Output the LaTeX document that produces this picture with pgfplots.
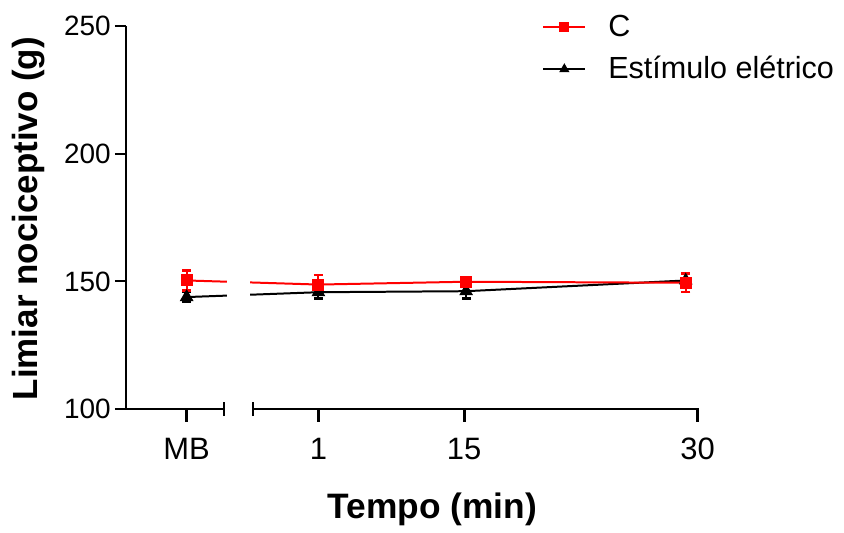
\documentclass[border=0pt]{standalone}
\usepackage{pgfplots}
\pgfplotsset{compat=1.18}
\usepackage{fontspec}
\setmainfont{Liberation Sans}
\definecolor{cred}{RGB}{255,0,0}
\begin{document}
\begin{tikzpicture}
\begin{axis}[
  x=0.5pt, y=1.28pt,
  xmin=126, xmax=700, ymin=100, ymax=250,
  clip=false,
  axis y line*=left, axis x line=none,
  axis line style={line width=1pt},
  ytick={100,150,200,250},
  xtick=\empty,
  tick align=outside,
  major tick length=5.5pt,
  every tick/.style={line width=1pt, black},
  /pgf/number format/assume math mode=true,
  yticklabel style={font=\fontsize{14}{16}\selectfont, xshift=1.5pt},
  legend style={draw=none, fill=none, at={(axis cs:537,257.5)}, anchor=north west,
    font=\fontsize{15.3}{18}\selectfont, row sep=4.5pt,
    nodes={inner sep=2pt},
    /tikz/every odd column/.append style={column sep=9pt}},
  legend cell align=left,
  reverse legend,
  legend image code/.code={\draw[mark repeat=2,mark phase=2, mark size=2pt] plot coordinates {(0pt,0pt)(10.5pt,0pt)(21pt,0pt)};},
]
% black series: Estímulo elétrico
\addplot[black, line width=1pt, mark=triangle*, mark size=3pt, mark options={solid},
  error bars/.cd, y dir=both, y explicit,
  error bar style={line width=1pt, black},
  error mark options={rotate=90, mark size=2.3pt, line width=1.2pt}]
  coordinates {
  (187,143.9) +- (0,2.0)
  (319,145.8) +- (0,2.5)
  (467,146.2) +- (0,2.8)
  (687,150.4) +- (0,2.5)
};
\addlegendentry{Estímulo elétrico}
% red series: C
\addplot[cred, line width=1pt, mark=square*, mark size=2.5pt, mark options={solid},
  error bars/.cd, y dir=both, y explicit,
  error bar style={line width=1pt, cred},
  error mark options={rotate=90, mark size=2.3pt, line width=1.2pt, cred}]
  coordinates {
  (187,150.4) +- (0,3.9)
  (319,148.8) +- (0,3.8)
  (467,149.9) +- (0,1.8)
  (687,149.5) +- (0,3.6)
};
\addlegendentry{C}
% gap of the broken axis
\fill[white] (axis cs:227,101) rectangle (axis cs:250,240);
% broken x axis
\draw[line width=1pt] (axis cs:126,100) -- (axis cs:224,100);
\draw[line width=1pt] (axis cs:253,100) -- (axis cs:700,100);
\draw[line width=1pt] ([yshift=-3.5pt]axis cs:224,100) -- ([yshift=3.5pt]axis cs:224,100);
\draw[line width=1pt] ([yshift=-3.5pt]axis cs:253,100) -- ([yshift=3.5pt]axis cs:253,100);
\draw[line width=1.5pt] (axis cs:187,100) -- ([yshift=-6.5pt]axis cs:187,100);
\draw[line width=1.5pt] (axis cs:319,100) -- ([yshift=-6.5pt]axis cs:319,100);
\draw[line width=1.5pt] (axis cs:465,100) -- ([yshift=-6.5pt]axis cs:465,100);
\draw[line width=1.5pt] (axis cs:699,100) -- ([yshift=-6.5pt]axis cs:699,100);
\node[font=\fontsize{15.5}{17}\selectfont] at ([yshift=-20pt]axis cs:187,100) {MB};
\node[font=\fontsize{15.5}{17}\selectfont] at ([yshift=-20pt]axis cs:319,100) {1};
\node[font=\fontsize{15.5}{17}\selectfont] at ([yshift=-20pt]axis cs:465,100) {15};
\node[font=\fontsize{15.5}{17}\selectfont] at ([yshift=-20pt]axis cs:699,100) {30};
% axis labels
\node[font=\fontsize{17.7}{20}\selectfont\bfseries] at (axis cs:433,60.9) {Tempo (min)};
\node[font=\fontsize{17.5}{20}\selectfont\bfseries, rotate=90] at (axis cs:29,174.6) {Limiar nociceptivo (g)};
% page frame
\path (axis cs:0,53.91) rectangle (axis cs:844,260.16);
\end{axis}
\end{tikzpicture}
\end{document}
